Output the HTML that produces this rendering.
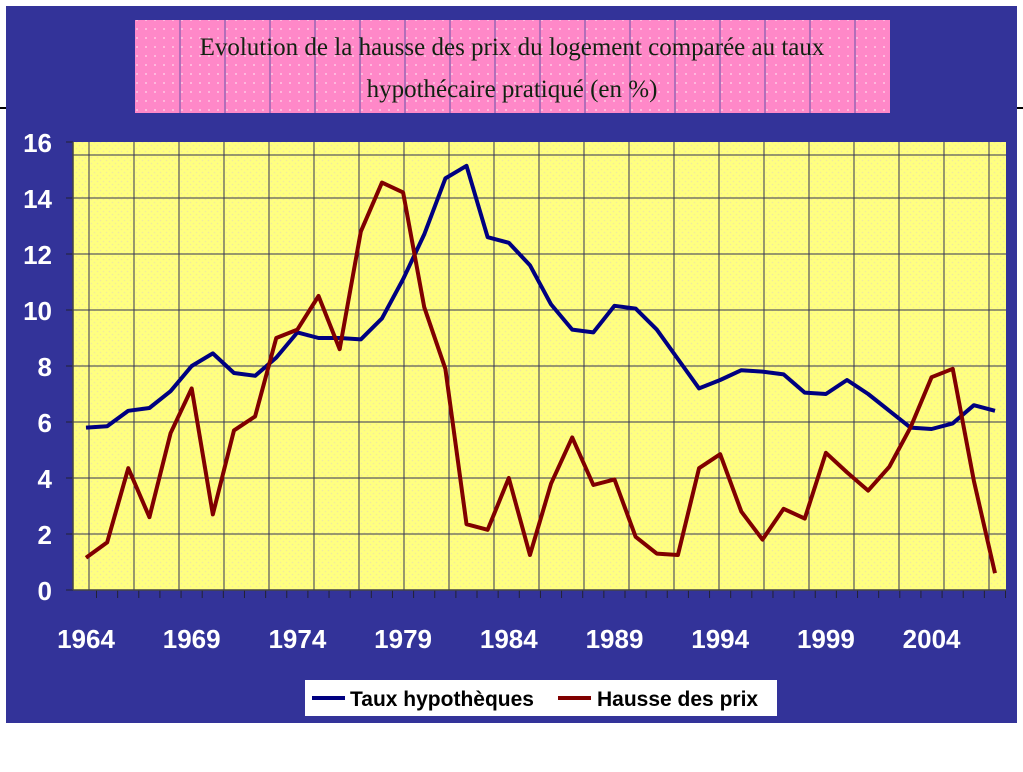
<!DOCTYPE html>
<html><head><meta charset="utf-8"><style>
body{margin:0;background:#fff;width:1023px;height:767px;overflow:hidden}
</style></head><body>
<svg width="1023" height="767" xmlns="http://www.w3.org/2000/svg">
<defs>
<pattern id="dotsY" width="6" height="6" patternUnits="userSpaceOnUse"><rect width="6" height="6" fill="#ffff80"/><circle cx="1.5" cy="1.5" r="0.8" fill="#f0e8a0"/><circle cx="4.5" cy="4.5" r="0.8" fill="#f0e8a0"/></pattern>
<pattern id="dotsP" width="9" height="9" patternUnits="userSpaceOnUse"><rect width="9" height="9" fill="#ff88c8"/><circle cx="2" cy="2" r="1" fill="#ffc8e4"/></pattern>
</defs>
<rect x="6" y="6" width="1011" height="717" fill="#333399"/>
<line x1="0" y1="108" x2="6" y2="108" stroke="#000" stroke-width="2"/>
<line x1="1017" y1="108" x2="1023" y2="108" stroke="#000" stroke-width="2"/>
<g>
<rect x="135" y="20" width="755" height="93" fill="url(#dotsP)"/>
<g id="pinkgrid" stroke="#6655aa" stroke-width="1"></g>
<text x="512" y="55" text-anchor="middle" font-family="Liberation Serif, serif" font-size="25" fill="#112211">Evolution de la hausse des prix du logement comparée au taux</text>
<text x="512" y="97" text-anchor="middle" font-family="Liberation Serif, serif" font-size="25" fill="#112211">hypothécaire pratiqué (en %)</text>
</g>
<rect x="73" y="142" width="933" height="448" fill="url(#dotsY)"/>
<g id="grid" stroke="#333355" stroke-width="1"></g>
<g id="axes"></g>
<g id="series"></g>
<g>
<rect x="305" y="680" width="472" height="36" fill="#fff"/>
<line x1="312" y1="698" x2="345" y2="698" stroke="#000080" stroke-width="4"/>
<text x="350" y="706" font-family="Liberation Sans, sans-serif" font-weight="bold" font-size="21" fill="#000">Taux hypothèques</text>
<line x1="558" y1="698" x2="591" y2="698" stroke="#800000" stroke-width="4"/>
<text x="597" y="706" font-family="Liberation Sans, sans-serif" font-weight="bold" font-size="21" fill="#000">Hausse des prix</text>
</g>
</svg>
<script>
const years=[];for(let y=1964;y<=2007;y++)years.push(y);
const taux=[5.8,5.85,6.4,6.5,7.1,8.0,8.45,7.75,7.65,8.3,9.2,9.0,9.0,8.95,9.7,11.1,12.7,14.7,15.15,12.6,12.4,11.6,10.2,9.3,9.2,10.15,10.05,9.3,8.25,7.2,7.5,7.85,7.8,7.7,7.05,7.0,7.5,7.0,6.4,5.8,5.75,5.95,6.6,6.4];
const hausse=[1.15,1.7,4.35,2.6,5.6,7.2,2.7,5.7,6.2,9.0,9.3,10.5,8.6,12.8,14.55,14.2,10.1,7.9,2.35,2.15,4.0,1.25,3.8,5.45,3.75,3.95,1.9,1.3,1.25,4.35,4.85,2.8,1.8,2.9,2.55,4.9,4.2,3.55,4.4,5.8,7.6,7.9,3.9,0.6];
const yTicks=[0,2,4,6,8,10,12,14,16];
const xLabels=[1964,1969,1974,1979,1984,1989,1994,1999,2004];
const NS='http://www.w3.org/2000/svg';
const X=i=>86+i*(995-86)/43, Y=v=>590-v*28;
function mk(t,a,p){const e=document.createElementNS(NS,t);for(const k in a)e.setAttribute(k,a[k]);p.appendChild(e);return e;}
const grid=document.getElementById('grid'),axes=document.getElementById('axes'),ser=document.getElementById('series'),pg=document.getElementById('pinkgrid');
for(let x=180;x<890;x+=45)mk('line',{x1:x,y1:20,x2:x,y2:113},pg);
for(let x=89;x<1006;x+=45)mk('line',{x1:x,y1:142,x2:x,y2:590},grid);
mk('line',{x1:73,y1:155,x2:1006,y2:155},grid);
yTicks.forEach(v=>{if(v>0&&v<16)mk('line',{x1:73,y1:Y(v),x2:1006,y2:Y(v)},grid);
 mk('line',{x1:66,y1:Y(v),x2:73,y2:Y(v),stroke:'#223',"stroke-width":1},axes);
 const t=mk('text',{x:52,y:Y(v)+10,"text-anchor":"end","font-family":"Liberation Sans, sans-serif","font-weight":"bold","font-size":26,fill:"#fff"},axes);
 t.textContent=v;});
years.forEach((y,i)=>mk('line',{x1:X(i)+10.5,y1:590,x2:X(i)+10.5,y2:598,stroke:'#223'},axes));
mk('line',{x1:73,y1:590,x2:1006,y2:590,stroke:'#444',"stroke-width":1.5},axes);
mk('line',{x1:73,y1:142,x2:73,y2:590,stroke:'#444',"stroke-width":1.5},axes);
xLabels.forEach(y=>{const i=years.indexOf(y);const t=mk('text',{x:X(i),y:648,"text-anchor":"middle","font-family":"Liberation Sans, sans-serif","font-weight":"bold","font-size":26,fill:"#fff"},axes);
 t.textContent=y;});
function line(d,c,n){const p=mk('polyline',{points:d.map((v,i)=>X(i)+','+Y(v)).join(' '),fill:'none',stroke:c,"stroke-width":4,"stroke-linejoin":"round"},ser);
 }
line(taux,'#000080','line-taux-hypotheques');
line(hausse,'#800000','line-hausse-des-prix');
</script>
</body></html>
